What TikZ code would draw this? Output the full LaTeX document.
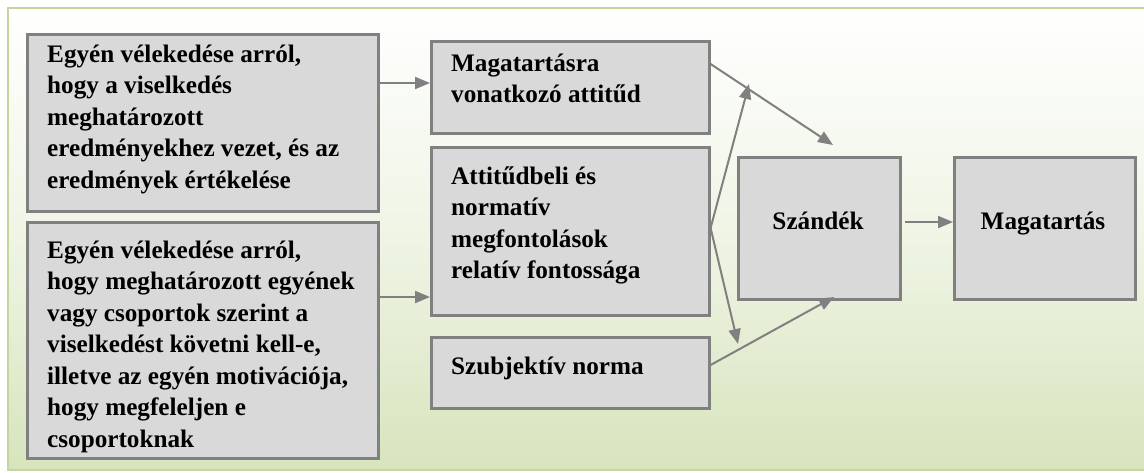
\documentclass[tikz,border=0pt]{standalone}
\usepackage{fontspec}
\setmainfont{Liberation Serif}
\usetikzlibrary{arrows.meta,calc}
\definecolor{frameG}{HTML}{C3D69B}
\definecolor{bgG}{HTML}{D7E4BD}
\definecolor{boxF}{HTML}{D9D9D9}
\definecolor{boxD}{HTML}{808080}
\tikzset{
  box/.style={draw=boxD, line width=2.6pt, fill=boxF, inner sep=0pt, anchor=north west},
  txt/.style={inner sep=0pt, anchor=base west, font=\fontsize{25.2}{31.5}\selectfont\bfseries},
  ctxt/.style={inner sep=0pt, anchor=base, font=\fontsize{25.2}{31.5}\selectfont\bfseries},
  arr/.style={draw=boxD, line width=2pt, -{Triangle[length=15pt,width=12pt]}},
  ln/.style={draw=boxD, line width=2pt}
}
\begin{document}
\begin{tikzpicture}[x=1pt,y=-1pt]
\useasboundingbox (0,0) rectangle (1144,472);
\fill[white] (0,0) rectangle (1144,472);
\shade[top color=white, bottom color=bgG, middle color=bgG!40] (8,8) rectangle (1160,470);
\draw[frameG, line width=2.6pt] (8,8) rectangle (1160,470);
% boxes
\node[box, minimum width=351pt, minimum height=177pt] (b1) at (26,33) {};
\node[box, minimum width=351pt, minimum height=236pt] (b2) at (26,221) {};
\node[box, minimum width=278pt, minimum height=92pt] (b3) at (430,40) {};
\node[box, minimum width=278pt, minimum height=168pt] (b4) at (430,146) {};
\node[box, minimum width=278pt, minimum height=71pt] (b5) at (430,336) {};
\node[box, minimum width=162pt, minimum height=142pt] (b6) at (737,156) {};
\node[box, minimum width=181pt, minimum height=142pt] (b7) at (953,156) {};
% texts
\node[txt] (t1) at (47,62) {\begin{tabular}[t]{@{}l@{}}Egyén vélekedése arról,\\hogy a viselkedés\\meghatározott\\eredményekhez vezet, és az\\eredmények értékelése\end{tabular}};
\node[txt] (t2) at (47,258) {\begin{tabular}[t]{@{}l@{}}Egyén vélekedése arról,\\hogy meghatározott egyének\\vagy csoportok szerint a\\viselkedést követni kell-e,\\illetve az egyén motivációja,\\hogy megfeleljen e\\csoportoknak\end{tabular}};
\node[txt] (t3) at (451,71) {\begin{tabular}[t]{@{}l@{}}Magatartásra\\vonatkozó attitűd\end{tabular}};
\node[txt] (t4) at (451,184) {\begin{tabular}[t]{@{}l@{}}Attitűdbeli és\\normatív\\megfontolások\\relatív fontossága\end{tabular}};
\node[txt] (t5) at (451,374) {Szubjektív norma};
\node[ctxt] (t6) at (818,229) {Szándék};
\node[ctxt] (t7) at (1043,229) {Magatartás};
% connectors
\coordinate (c1) at (833,145);
\coordinate (c2) at (749,84);
\coordinate (c3) at (738,344);
\coordinate (c4) at (834,297);
\coordinate (c5) at (905,222);
\draw[arr] (b1.east |- 0,83) -- (b3.west |- 0,83);
\draw[arr] (b2.east |- 0,297) -- (b4.west |- 0,297);
\draw[arr] (b3.east |- 0,64) -- (c1);
\draw[arr] (b4.east |- 0,228) -- (c2);
\draw[arr] (b4.east |- 0,228) -- (c3);
\draw[arr] (b5.east |- 0,365) -- (c4);
\draw[arr] (c5) -- (b7.west |- c5);
\end{tikzpicture}
\end{document}
